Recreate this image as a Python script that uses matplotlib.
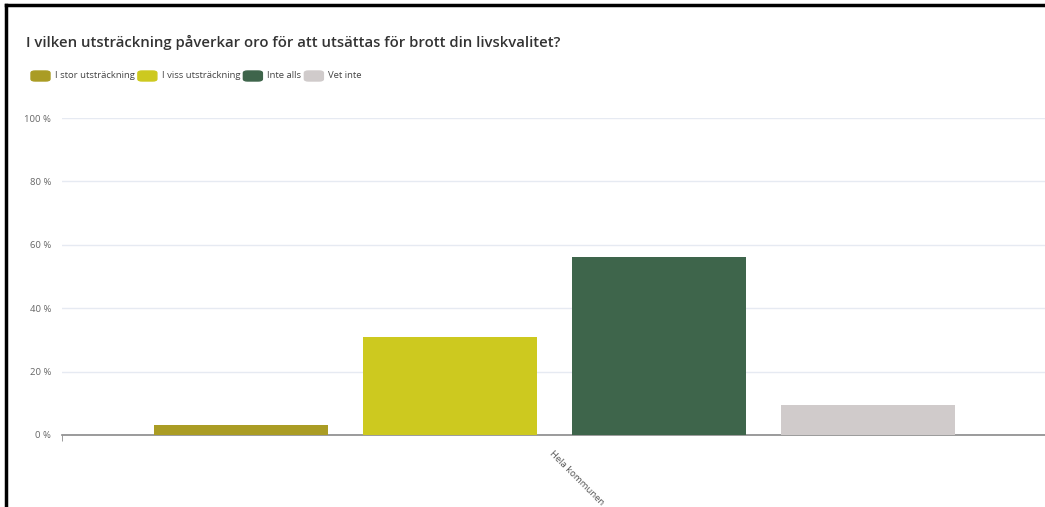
import numpy as np
import matplotlib.pyplot as plt
from matplotlib.lines import Line2D
from matplotlib.patches import FancyBboxPatch

plt.rcParams['font.family'] = ['Open Sans', 'DejaVu Sans']

title = "I vilken utsträckning påverkar oro för att utsättas för brott din livskvalitet?"
category = "Hela kommunen"
series = ["I stor utsträckning", "I viss utsträckning", "Inte alls", "Vet inte"]
values = [3.3, 30.9, 56.1, 9.5]
colors = ["#aa9c24", "#cdc91f", "#3e654b", "#d0cbcb"]
yticks = [0, 20, 40, 60, 80, 100]

fig = plt.figure(figsize=(10.45, 5.07), dpi=100)
ax = fig.add_axes([62 / 1045, 1 - 435 / 507, 1 - 62 / 1045, (435 - 118) / 507])

step = 0.2126
width = 0.177
offsets = (np.arange(len(series)) - 1.5) * step + 0.001
for off, v, c, name in zip(offsets, values, colors, series):
    ax.bar(off, v, width=width, color=c, label=name, zorder=3)

ax.set_xlim(-0.5, 0.5)
ax.set_ylim(0, 100)
ax.set_yticks(yticks)
ax.set_yticklabels([f"{t} %" for t in yticks], fontsize=6.8, color="#666666")
ax.tick_params(axis='y', length=0, pad=8)
ax.grid(axis='y', color="#e6eaf2", linewidth=1, zorder=0)
for s in ['top', 'right', 'left']:
    ax.spines[s].set_visible(False)
ax.spines['bottom'].set_color("#8a8a8a")
ax.spines['bottom'].set_linewidth(1.2)

ax.set_xticks([0])
ax.set_xticklabels([category], rotation=-45, ha='left', va='top',
                   rotation_mode='anchor', fontsize=6.8, color="#555555")
ax.tick_params(axis='x', length=0, pad=10)
ax.set_xticks([-0.5], minor=True)
ax.tick_params(axis='x', which='minor', length=4, color="#8a8a8a")

fig.text(26 / 1045, 1 - 42 / 507, title, fontsize=10.7, fontweight='semibold',
         color="#333333", va='center', ha='left')

# legend row
x = 31
for name, c in zip(series, colors):
    fig.patches.append(FancyBboxPatch((x / 1045, 1 - 81 / 507), 19 / 1045, 10 / 507,
                                      boxstyle="round,pad=0,rounding_size=0.004",
                                      transform=fig.transFigure, color=c))
    t = fig.text((x + 24) / 1045, 1 - 76 / 507, name, fontsize=6.8, color="#444444",
                 va='center', ha='left')
    fig.canvas.draw()
    bb = t.get_window_extent()
    x = bb.x1 + 3

# screenshot frame
fig.add_artist(Line2D([6 / 1045, 1], [1 - 5 / 507, 1 - 5 / 507], color='black', lw=2.5))
fig.add_artist(Line2D([6 / 1045, 6 / 1045], [0, 1 - 5 / 507], color='black', lw=2.5))

fig.savefig("out.png", dpi=100, facecolor='white')
